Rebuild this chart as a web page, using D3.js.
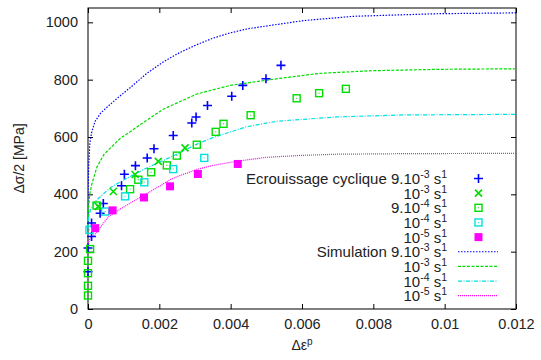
<!DOCTYPE html>
<html><head><meta charset="utf-8">
<script src="https://cdn.jsdelivr.net/npm/d3@7"></script>
<style>body{margin:0;background:#fff}svg{display:block}text{font-family:"Liberation Sans",Arial,sans-serif;fill:#222}</style>
</head><body><svg id="c" width="541" height="360"></svg>
<script>
// ---- data ----
const xTicks = [0, 0.002, 0.004, 0.006, 0.008, 0.01, 0.012];
const yTicks = [0, 200, 400, 600, 800, 1000];
const exp9e3 = [[0,130],[0,213],[0.0001,253],[0.0001,300],[0.00034,334],[0.00043,368],[0.00094,430],[0.00102,470],[0.00133,500],[0.00166,527],[0.00185,559],[0.00239,605],[0.00291,649],[0.00303,670],[0.00335,710],[0.00403,742],[0.00434,780],[0.00499,803],[0.00541,850]];
const exp1e3 = [[0.00029,358],[0.00071,410],[0.00132,469],[0.00197,515],[0.00272,562]];
const exp9e4 = [[0,47],[0,81],[0,125],[0,168],[0.00006,209],[0.00024,361],[0.00118,418],[0.00141,451],[0.00177,477],[0.00221,501],[0.00249,535],[0.00305,573],[0.00358,618],[0.0038,646],[0.00456,676],[0.00585,735],[0.00648,753],[0.00723,768]];
const exp1e4 = [[0.00004,276],[0.00048,340],[0.00104,393],[0.00158,442],[0.00239,488],[0.00326,527]];
const exp1e5 = [[0.0002,282],[0.00069,344],[0.00157,389],[0.0023,428],[0.00308,471],[0.0042,506]];
const sim9e3 = [[0,290],[0,400],[0.00002,500],[0.00005,575],[0.0001,615],[0.0002,655],[0.00036,684],[0.0005,700],[0.00078,731],[0.00118,772],[0.00165,822],[0.00211,862],[0.00258,895],[0.00305,922],[0.00351,945],[0.00398,963],[0.0045,978],[0.0051,989],[0.00604,1006],[0.00744,1021],[0.00978,1030],[0.012,1033]];
const sim1e3 = [[0,290],[0.00002,360],[0.00005,400],[0.0001,432],[0.00017,462],[0.00025,495],[0.00045,540],[0.00092,597],[0.00118,618],[0.00152,648],[0.00211,697],[0.00305,750],[0.00398,780],[0.00534,804],[0.0065,822],[0.0079,831],[0.00978,836],[0.012,838]];
const sim1e4 = [[0,280],[0.00002,320],[0.00007,346],[0.0002,375],[0.00045,404],[0.00065,425],[0.00101,451],[0.00155,486],[0.00249,540],[0.00305,575],[0.0035,598],[0.00445,636],[0.0053,655],[0.00697,670],[0.00884,677],[0.012,679]];
const sim1e5 = [[0,200],[0.00003,240],[0.00026,270],[0.00045,302],[0.0006,325],[0.001,356],[0.0015,392],[0.002,428],[0.0023,451],[0.0025,462],[0.00308,488],[0.0035,501],[0.0042,516],[0.005,529],[0.006,536],[0.007,540],[0.009,542],[0.012,543]];

const W=541,H=360, L=88,R=516,T=8,B=309;
const svg=d3.select("#c");
const x=d3.scaleLinear().domain([0,0.012]).range([L,R]);
const y=d3.scaleLinear().domain([0,1050]).range([B,T]);

svg.append("defs").append("clipPath").attr("id","clip").append("rect").attr("x",L).attr("y",T).attr("width",R-L).attr("height",B-T);

// axes (ticks inward, mirrored)
const fs=14.5;
const ax=svg.append("g").attr("transform",`translate(0,${B})`).call(d3.axisBottom(x).tickValues(xTicks).tickSize(-5).tickPadding(10).tickFormat(d3.format("~g")));
const axT=svg.append("g").attr("transform",`translate(0,${T})`).call(d3.axisTop(x).tickValues(xTicks).tickSize(-5).tickFormat(""));
const ay=svg.append("g").attr("transform",`translate(${L},0)`).call(d3.axisLeft(y).tickValues(yTicks).tickSize(-5).tickPadding(10).tickFormat(d3.format("d")));
const ayR=svg.append("g").attr("transform",`translate(${R},0)`).call(d3.axisRight(y).tickValues(yTicks).tickSize(-5).tickFormat(""));
[ax,axT,ay,ayR].forEach(g=>{g.select(".domain").remove();g.selectAll("line").attr("stroke","#000");g.selectAll("text").attr("font-size",fs).attr("font-family","Liberation Sans, Arial, sans-serif").attr("fill","#222");});
svg.append("rect").attr("x",L).attr("y",T).attr("width",R-L).attr("height",B-T).attr("fill","none").attr("stroke","#000").attr("stroke-width",1);

// axis labels
const yl=svg.append("text").attr("transform",`translate(24,${(T+B)/2}) rotate(-90)`).attr("text-anchor","middle").attr("font-size",14);
yl.text("Δσ/2 [MPa]");
const xl=svg.append("text").attr("x",(L+R)/2).attr("y",350).attr("text-anchor","middle").attr("font-size",14);
xl.append("tspan").text("Δε");
xl.append("tspan").attr("dy",-5).attr("font-size",10).text("p");

// curves
const line=d3.line().x(d=>x(d[0])).y(d=>y(d[1]));
const sims=[
 {data:sim9e3,color:"#0000ff",dash:"1.5,1.5"},
 {data:sim1e3,color:"#00dd00",dash:"3,1.5"},
 {data:sim1e4,color:"#00e0e0",dash:"4,1.5,1,1.5"},
 {data:sim1e5,color:"#ff00ff",dash:"1,1"}];
const cg=svg.append("g").attr("clip-path","url(#clip)");
sims.forEach(s=>cg.append("path").attr("d",line(s.data)).attr("fill","none").attr("stroke",s.color).attr("stroke-width",1.2).attr("stroke-dasharray",s.dash));

// markers
function plus(g,cx,cy,c){g.append("path").attr("d",`M${cx-4.5},${cy}H${cx+4.5}M${cx},${cy-4.5}V${cy+4.5}`).attr("stroke",c).attr("stroke-width",1.6).attr("fill","none");}
function cross(g,cx,cy,c){g.append("path").attr("d",`M${cx-3.5},${cy-3.5}L${cx+3.5},${cy+3.5}M${cx-3.5},${cy+3.5}L${cx+3.5},${cy-3.5}`).attr("stroke",c).attr("stroke-width",1.6).attr("fill","none");}
function sqdot(g,cx,cy,c){g.append("rect").attr("x",cx-3.5).attr("y",cy-3.5).attr("width",7).attr("height",7).attr("fill","none").attr("stroke",c).attr("stroke-width",1.4);g.append("rect").attr("x",cx-0.5).attr("y",cy-0.5).attr("width",1).attr("height",1).attr("fill",c);}
function sqfill(g,cx,cy,c){g.append("rect").attr("x",cx-4).attr("y",cy-4).attr("width",8).attr("height",8).attr("fill",c);}
const exps=[
 {data:exp9e3,color:"#0000ff",m:plus},
 {data:exp1e3,color:"#00dd00",m:cross},
 {data:exp9e4,color:"#00dd00",m:sqdot},
 {data:exp1e4,color:"#00e0e0",m:sqdot},
 {data:exp1e5,color:"#ff00ff",m:sqfill}];
const pg=svg.append("g");
exps.forEach(s=>s.data.forEach(d=>s.m(pg,x(d[0]),y(d[1]),s.color)));

// legend
const legRows=[
 {pre:"Ecrouissage cyclique 9.10",exp:"-3",type:"p",s:exps[0]},
 {pre:"10",exp:"-3",type:"p",s:exps[1]},
 {pre:"9.10",exp:"-4",type:"p",s:exps[2]},
 {pre:"10",exp:"-4",type:"p",s:exps[3]},
 {pre:"10",exp:"-5",type:"p",s:exps[4]},
 {pre:"Simulation 9.10",exp:"-3",type:"l",s:sims[0]},
 {pre:"10",exp:"-3",type:"l",s:sims[1]},
 {pre:"10",exp:"-4",type:"l",s:sims[2]},
 {pre:"10",exp:"-5",type:"l",s:sims[3]}];
const lg=svg.append("g");
legRows.forEach((r,i)=>{
  const cy=178.5+i*14.65;
  const t=lg.append("text").attr("x",447).attr("y",cy+5.5).attr("text-anchor","end").attr("font-size",15);
  t.append("tspan").text(r.pre);
  t.append("tspan").attr("dy",-6).attr("font-size",10.5).text(r.exp);
  t.append("tspan").attr("dy",6).text(" s");
  t.append("tspan").attr("dy",-6).attr("font-size",10.5).text("1");
  if(r.type==="p") r.s.m(lg,478.5,cy,r.s.color);
  else lg.append("line").attr("x1",458).attr("x2",498).attr("y1",cy).attr("y2",cy).attr("stroke",r.s.color).attr("stroke-width",1.2).attr("stroke-dasharray",r.s.dash);
});
</script></body></html>
